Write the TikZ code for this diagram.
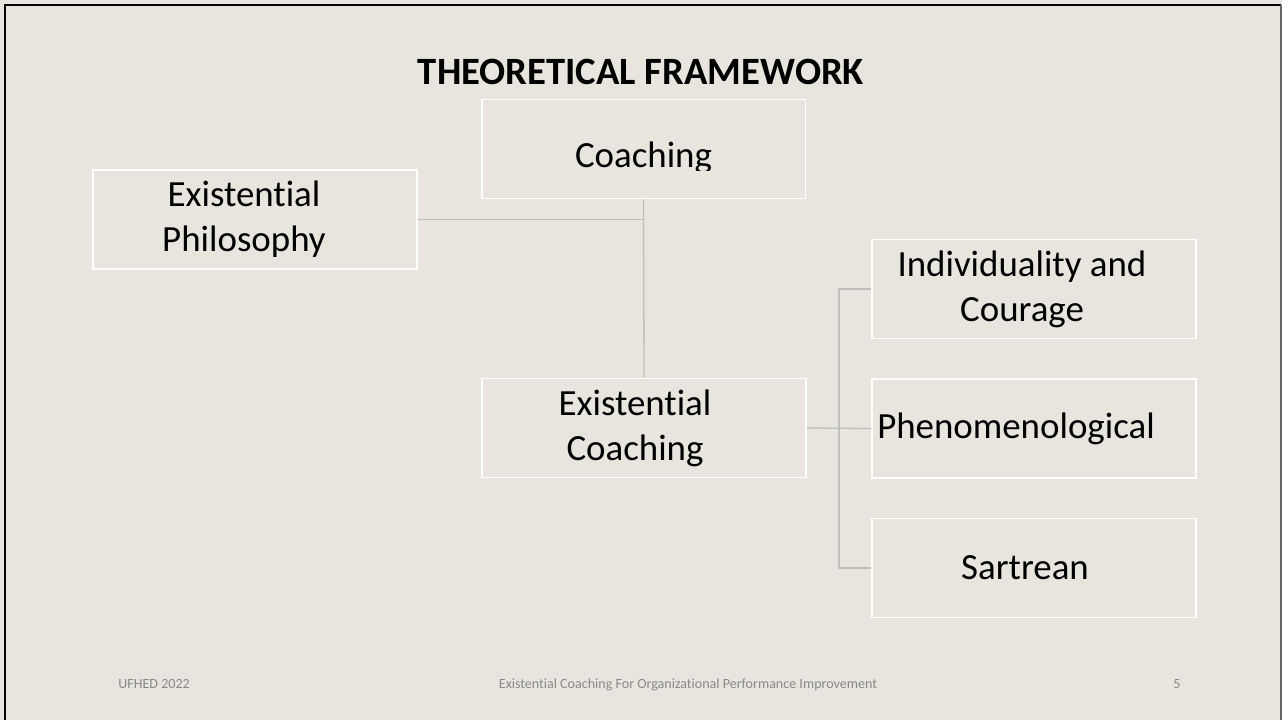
\documentclass[tikz,border=0pt]{standalone}
\usepackage{fontspec}
\setmainfont{Carlito}[Ligatures=NoCommon, Contextuals=NoAlternate]
\usepackage{tikz}
\usetikzlibrary{calc}
\usepackage{xcolor}
\definecolor{slidebg}{RGB}{232,229,223}
\definecolor{linkgrey}{RGB}{190,190,190}
\definecolor{footgrey}{RGB}{137,137,137}

\begin{document}
\begin{tikzpicture}[x=0.02cm, y=-0.02cm,
    box/.style={rectangle, draw=white, line width=1.1pt,
        minimum width=6.48cm, minimum height=1.98cm, inner sep=0pt},
    txt/.style={align=center, inner sep=0pt, font=\fontsize{21}{25.5}\selectfont},
    link/.style={draw=linkgrey, line width=0.75pt},
    foot/.style={font=\fontsize{8}{10}\selectfont, text=footgrey, inner sep=0pt, anchor=base}
]
    % slide background and frame
    \fill[slidebg] (0,0) rectangle (1282,720);
    \useasboundingbox (0,0) rectangle (1282,720);
    \draw[line width=1.5pt] (5,722) -- (5,5) -- (1281,5);
    \draw[line width=0.6pt, black!60] (1281,5) -- (1281,722);

    \node[font=\fontsize{22}{26}\bfseries\selectfont, anchor=base, inner sep=0pt] (title) at (641,84) {THEORETICAL FRAMEWORK};

    \node[box] (coach) at (643.5,149) {};
    \node[box] (philo) at (255,219.5) {};
    \node[box] (excoach) at (644,428) {};
    \node[box] (indiv) at (1034,289) {};
    \node[box] (pheno) at (1034,428.5) {};
    \node[box] (sartre) at (1034,568) {};

    % text of the top box is cut off just under its baseline
    \begin{scope}
        \clip (coach.north west) rectangle ($(coach.east)+(0,21)$);
        \node[txt] (coachtxt) at ($(coach)+(0,9)$) {Coaching};
    \end{scope}
    \node[txt] (philotxt) at ($(philo)+(-11,0)$) {Existential\\Philosophy};
    \node[txt] (excoachtxt) at ($(excoach)+(-9,0)$) {Existential\\Coaching};
    \node[txt] (indivtxt) at ($(indiv)+(-12,0)$) {Individuality and\\Courage};
    \node[txt] (phenotxt) at ($(pheno)+(-18,0)$) {Phenomenological};
    \node[txt] (sartretxt) at ($(sartre)+(-9,0)$) {Sartrean};

    \coordinate (bus) at ($(excoach.east)!0.5!(pheno.west)$);
    \draw[link] (coach.south) -- (excoach.north);
    \draw[link] (philo.east) -- (philo.east -| coach.south);
    \draw[link] (excoach.east) -- (pheno.west);
    \draw[link] (indiv.west) -- (indiv.west -| bus) -- (sartre.west -| bus) -- (sartre.west);

    \node[foot, anchor=base west] (org) at (118,688) {UFHED 2022};
    \node[foot] (subject) at (688,688) {Existential Coaching For Organizational Performance Improvement};
    \node[foot] (pageno) at (1177,688) {5};
\end{tikzpicture}
\end{document}
